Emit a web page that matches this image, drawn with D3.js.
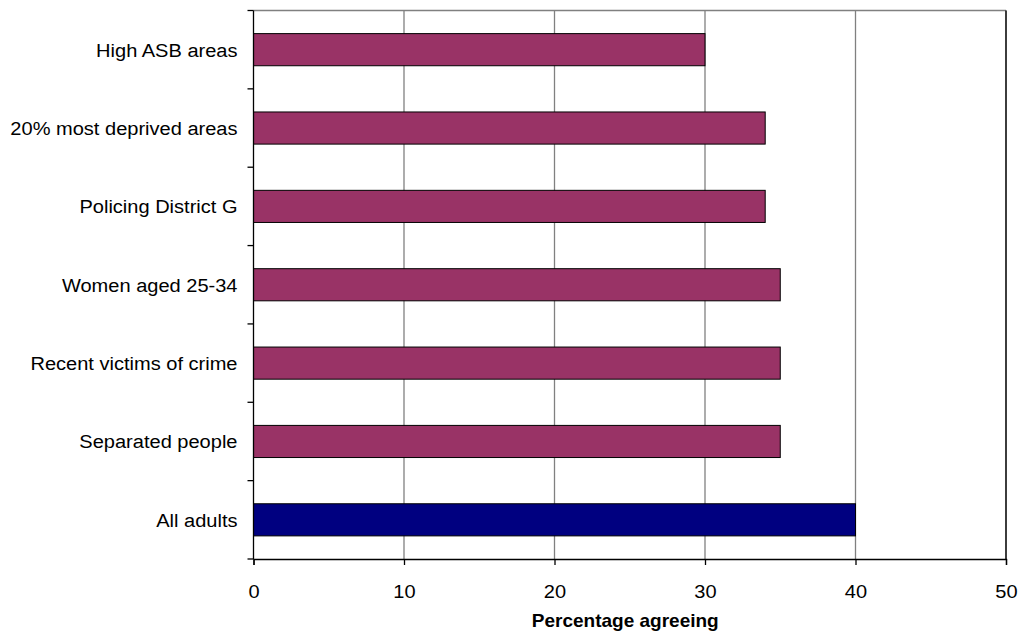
<!DOCTYPE html>
<html><head><meta charset="utf-8">
<script src="https://cdn.jsdelivr.net/npm/d3@7"></script>
<style>body{margin:0;background:#fff}svg{display:block}text{font-family:"Liberation Sans",Arial,sans-serif}</style>
</head><body><svg id="c" width="1019" height="633"></svg>
<script>
const categories = ["High ASB areas","20% most deprived areas","Policing District G","Women aged 25-34","Recent victims of crime","Separated people","All adults"];
const values = [30,34,34,35,35,35,40];
const barColors = ["#993366","#993366","#993366","#993366","#993366","#993366","#000080"];
const xTicks = [0,10,20,30,40,50];
const xTitle = "Percentage agreeing";

const SX = 1.055, FS = 19;
const svg = d3.select("#c");
const L=253.5, R=1006, T=10.5, B=559;
const x = d3.scaleLinear().domain([0,50]).range([L,R]);
const y = d3.scaleBand().domain(categories).range([T,B]).paddingInner(0.59).paddingOuter(0.295);
const yb = d3.scaleBand().domain(categories).range([T,B]);

// gridlines
svg.append("g").selectAll("line").data(xTicks.slice(1)).join("line")
  .attr("x1",d=>x(d)).attr("x2",d=>x(d)).attr("y1",T).attr("y2",B)
  .attr("stroke","#808080").attr("stroke-width",1.3);
svg.append("line").attr("x1",L).attr("x2",R).attr("y1",T).attr("y2",T).attr("stroke","#808080").attr("stroke-width",1.3);

// bars
svg.append("g").selectAll("rect").data(categories).join("rect")
  .attr("x",x(0)).attr("y",d=>y(d)).attr("width",(d,i)=>x(values[i])-x(0)).attr("height",y.bandwidth())
  .attr("fill",(d,i)=>barColors[i]).attr("stroke","#000").attr("stroke-width",1);

// x axis
const xa = svg.append("g").attr("transform",`translate(0,${B})`)
  .call(d3.axisBottom(x).tickValues(xTicks).tickSize(6));
xa.select(".domain").attr("stroke","#000").attr("stroke-width",1.3);
xa.selectAll(".tick line").attr("stroke","#000").attr("stroke-width",1.3);
xa.selectAll(".tick text").attr("font-size",FS).attr("fill","#000")
  .attr("font-family","Liberation Sans, Arial, sans-serif")
  .attr("y",38.7).attr("dy",null).attr("transform",`scale(${SX},1)`);

// y axis
const ya = svg.append("g").attr("transform",`translate(${L},0)`);
ya.append("line").attr("x1",0).attr("x2",0).attr("y1",T).attr("y2",B).attr("stroke","#000").attr("stroke-width",1.3);
const bounds = categories.map(c=>yb(c)).concat([B]);
ya.selectAll("line.t").data(bounds).join("line").attr("class","t")
  .attr("x1",-6).attr("x2",0).attr("y1",d=>d).attr("y2",d=>d).attr("stroke","#000").attr("stroke-width",1.3);
ya.selectAll("text").data(categories).join("text")
  .attr("transform",d=>`translate(-16,${yb(d)+yb.bandwidth()/2+7}) scale(${SX},1)`)
  .attr("text-anchor","end").attr("font-size",FS).attr("fill","#000").text(d=>d);

// right border
svg.append("line").attr("x1",R).attr("x2",R).attr("y1",T).attr("y2",B).attr("stroke","#000").attr("stroke-width",1.3);

svg.append("text").attr("transform",`translate(${(L+R)/2-4.5},626.5)`).attr("text-anchor","middle")
  .attr("font-size",FS).attr("font-weight","bold").text(xTitle);
</script></body></html>
